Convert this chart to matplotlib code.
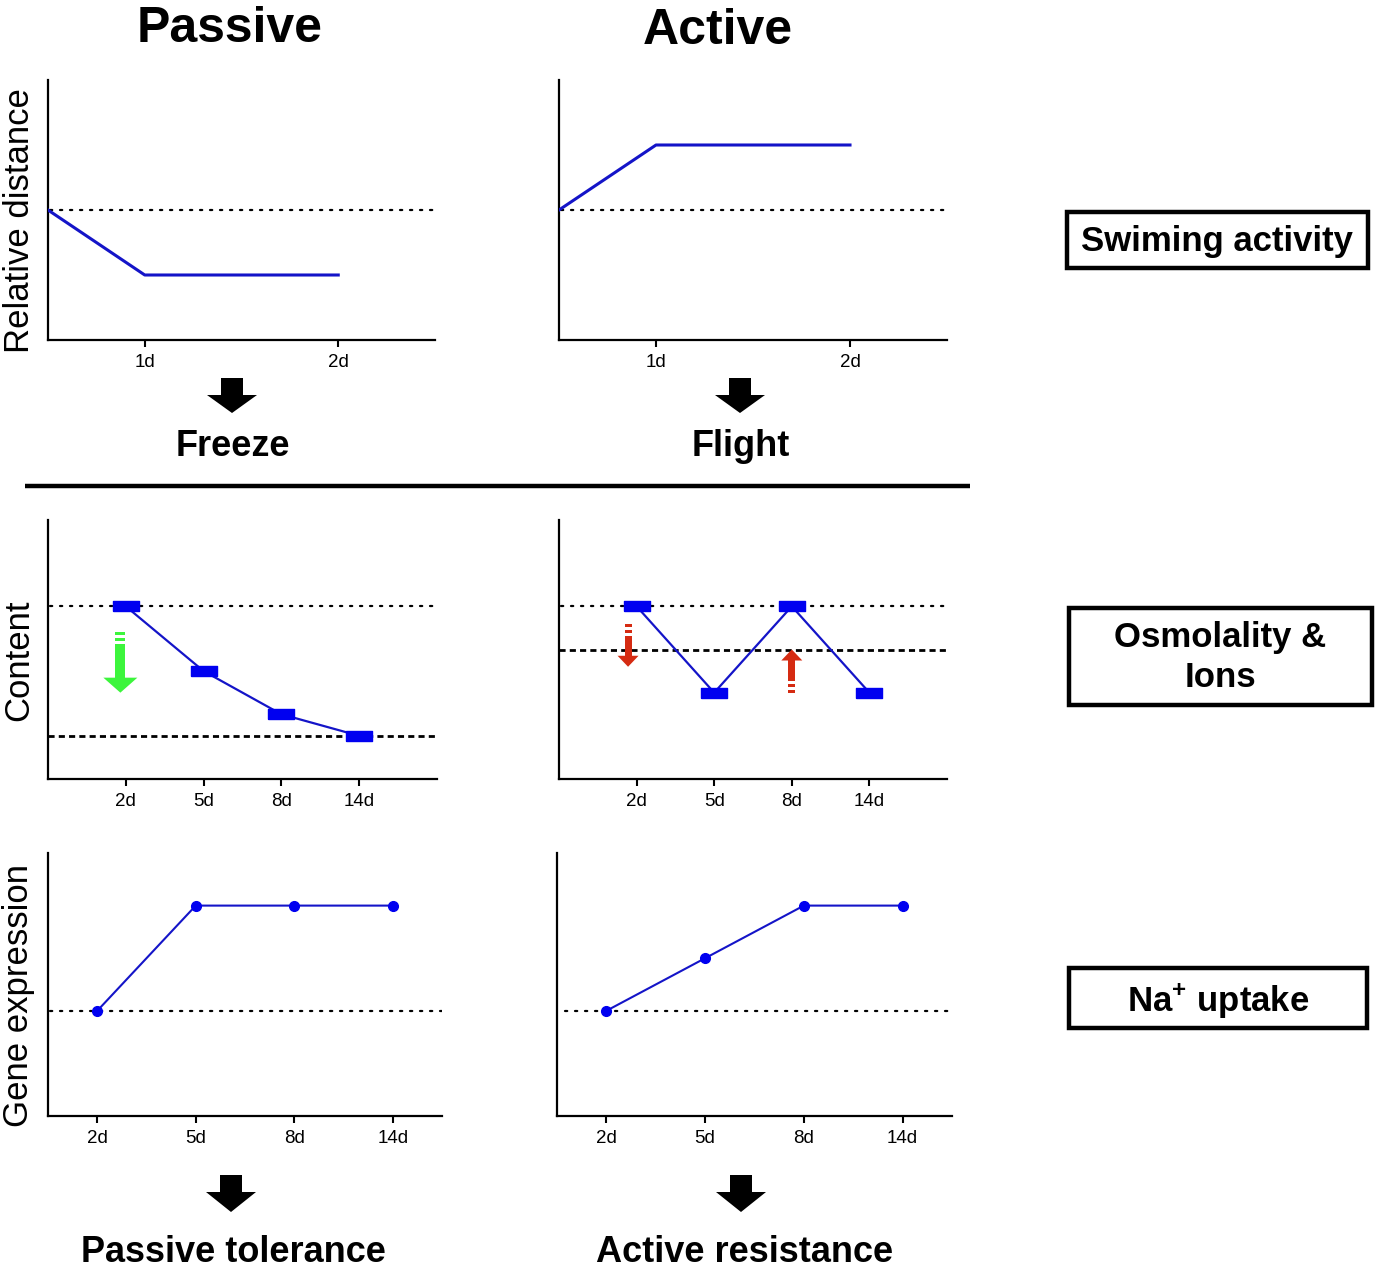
import numpy as np
import matplotlib
matplotlib.use('Agg')
import matplotlib.pyplot as plt
from matplotlib.patches import Polygon, Rectangle

plt.rcParams['font.family'] = ['Liberation Sans', 'DejaVu Sans']
plt.rcParams['mathtext.fontset'] = 'custom'
plt.rcParams['mathtext.rm'] = 'Liberation Sans'
plt.rcParams['mathtext.bf'] = 'Liberation Sans:bold'

W, H = 1382, 1269

# swimming activity (relative distance)
swim_ticks = ['1d', '2d']
swim_tick_x = [1, 3]
swim_x = [0, 1, 3]
passive_swim = [2, 1, 1]
active_swim = [2, 3, 3]
swim_ref = 2

# osmolality & ions (content)
days = ['2d', '5d', '8d', '14d']
day_x = [1, 2, 3, 4]
passive_content = [4, 2.5, 1.5, 1.0]
active_content = [4, 2, 4, 2]
content_ref = 4
passive_content_dash = 1.0
active_content_dash = 3.0

# Na+ uptake (gene expression)
passive_gene = [2, 4, 4, 4]
active_gene = [2, 3, 4, 4]
gene_ref = 2

LINE = '#1414c8'
MARK = '#0000f0'


def rect(left, top, right, bottom):
    return [left / W, 1 - bottom / H, (right - left) / W, (bottom - top) / H]


def style(ax, xlim, ylim, tick_x, labels):
    ax.set_xlim(*xlim)
    ax.set_ylim(*ylim)
    for s in ['top', 'right']:
        ax.spines[s].set_visible(False)
    for s in ['left', 'bottom']:
        ax.spines[s].set_linewidth(1.6)
    ax.set_yticks([])
    ax.set_xticks(tick_x)
    ax.set_xticklabels(labels, fontsize=13.5)
    ax.tick_params(axis='x', length=5, width=1.5, pad=5)
    ax.patch.set_alpha(0)


def ylabel(ax, text):
    ax.set_ylabel(text, fontsize=25)
    ax.yaxis.set_label_coords(-0.032, 0.46)


def dotted(ax, y, x0, x1):
    ax.plot([x0, x1], [y, y], color='black', lw=1.6, ls=(0, (1, 3.5)),
            dash_capstyle='round', zorder=1)


def dashed(ax, y, x0, x1):
    ax.plot([x0, x1], [y, y], color='black', lw=2, ls=(0, (2.2, 1.5)), zorder=1)


def arrow(ax, x, y0, y1, shaft, head_w, head_l, color, broken=True):
    # arrow from y0 to y1 at data x, sizes in pixels
    t = ax.transData
    sx = t.transform((1, 0))[0] - t.transform((0, 0))[0]
    sy = t.transform((0, 1))[1] - t.transform((0, 0))[1]
    d = np.sign(y1 - y0)
    length = abs(y1 - y0) * sy
    hl = head_l / sy
    ybase = y1 - d * hl
    ax.add_patch(Polygon([(x - head_w / 2 / sx, ybase), (x + head_w / 2 / sx, ybase),
                          (x, y1)], closed=True, color=color, lw=0, zorder=5))
    pieces = [(0, 3), (6, 9), (12, length - head_l + 1)] if broken else [(0, length - head_l + 1)]
    for a, b in pieces:
        ya = y0 + d * a / sy
        yb = y0 + d * b / sy
        ax.add_patch(Rectangle((x - shaft / 2 / sx, min(ya, yb)), shaft / sx, abs(yb - ya),
                               color=color, lw=0, zorder=5))


fig = plt.figure(figsize=(W / 100, H / 100), dpi=100)

# row 1: swimming
ax = fig.add_axes(rect(48, 80, 435, 340))
style(ax, (0, 4), (0, 4), swim_tick_x, swim_ticks)
dotted(ax, swim_ref, 0.02, 4)
ax.plot(swim_x, passive_swim, color=LINE, lw=2.2, zorder=3)
ylabel(ax, 'Relative distance')

ax = fig.add_axes(rect(559, 80, 947, 340))
style(ax, (0, 4), (0, 4), swim_tick_x, swim_ticks)
dotted(ax, swim_ref, 0.02, 4)
ax.plot(swim_x, active_swim, color=LINE, lw=2.2, zorder=3)

# row 2: content
rect_mark = [(-1, -0.36), (1, -0.36), (1, 0.36), (-1, 0.36), (-1, -0.36)]
ax = fig.add_axes(rect(48, 520, 437, 779))
style(ax, (0, 5), (0, 6), day_x, days)
dotted(ax, content_ref, 0.02, 5)
dashed(ax, passive_content_dash, 0, 5)
ax.plot(day_x, passive_content, color=LINE, lw=1.6, marker=rect_mark, ms=19,
        mfc=MARK, mec=MARK, zorder=3)
ylabel(ax, 'Content')
fig.canvas.draw()
arrow(ax, 0.93, 3.4, 2.0, 10, 34, 15, '#3cf53c')

ax = fig.add_axes(rect(559, 520, 947, 779))
style(ax, (0, 5), (0, 6), day_x, days)
dotted(ax, content_ref, 0.02, 5)
dashed(ax, active_content_dash, 0, 5)
ax.plot(day_x, active_content, color=LINE, lw=1.6, marker=rect_mark, ms=19,
        mfc=MARK, mec=MARK, zorder=3)
arrow(ax, 0.89, 3.6, 2.6, 7, 21, 11, '#d52b12')
arrow(ax, 3.0, 2.0, 3.0, 7, 21, 11, '#d52b12')

# row 3: gene expression
ax = fig.add_axes(rect(48, 853, 442, 1116))
style(ax, (0.5, 4.5), (0, 5), day_x, days)
dotted(ax, gene_ref, 0.52, 4.5)
ax.plot(day_x, passive_gene, color=LINE, lw=1.5, marker='o', ms=7,
        mfc=MARK, mec=MARK, zorder=3)
ylabel(ax, 'Gene expression')

ax = fig.add_axes(rect(557, 853, 952, 1116))
style(ax, (0.5, 4.5), (0, 5), day_x, days)
dotted(ax, gene_ref, 0.58, 4.5)
ax.plot(day_x, active_gene, color=LINE, lw=1.5, marker='o', ms=7,
        mfc=MARK, mec=MARK, zorder=3)

# overlay in pixel coords for titles, arrows and boxes
ov = fig.add_axes([0, 0, 1, 1])
ov.set_xlim(0, W)
ov.set_ylim(H, 0)
ov.axis('off')
ov.patch.set_alpha(0)

ov.text(230, 29, 'Passive', fontsize=36, fontweight='bold', ha='center', va='center')
ov.text(718, 31, 'Active', fontsize=36, fontweight='bold', ha='center', va='center')
ov.text(233, 447, 'Freeze', fontsize=26, fontweight='bold', ha='center', va='center')
ov.text(741, 446, 'Flight', fontsize=26, fontweight='bold', ha='center', va='center')
ov.text(233, 1252, 'Passive tolerance', fontsize=26, fontweight='bold', ha='center', va='center')
ov.text(745, 1252, 'Active resistance', fontsize=26, fontweight='bold', ha='center', va='center')

ov.plot([25, 970], [486, 486], color='black', lw=3.2, solid_capstyle='butt')


def big_arrow(cx, top, bottom):
    ov.add_patch(Rectangle((cx - 11, top), 22, 19, color='black', lw=0))
    ov.add_patch(Polygon([(cx - 25, top + 17), (cx + 25, top + 17), (cx, bottom)],
                         closed=True, color='black', lw=0))


big_arrow(232, 378, 413)
big_arrow(740, 378, 413)
big_arrow(231, 1175, 1212)
big_arrow(741, 1175, 1212)


def box(left, top, right, bottom, label, dy=1):
    ov.add_patch(Rectangle((left, top), right - left, bottom - top, fill=False,
                           ec='black', lw=3.2))
    ov.text((left + right) / 2, (top + bottom) / 2 + dy, label, fontsize=25,
            fontweight='bold', ha='center', va='center', linespacing=1.3)


box(1067, 212, 1368, 268, 'Swiming activity', dy=2)
box(1069, 608, 1372, 705, 'Osmolality &\nIons', dy=1)
box(1069, 968, 1367, 1028, 'Na$^{\\mathbf{+}}$ uptake', dy=3)

fig.savefig('out.png', dpi=100)
